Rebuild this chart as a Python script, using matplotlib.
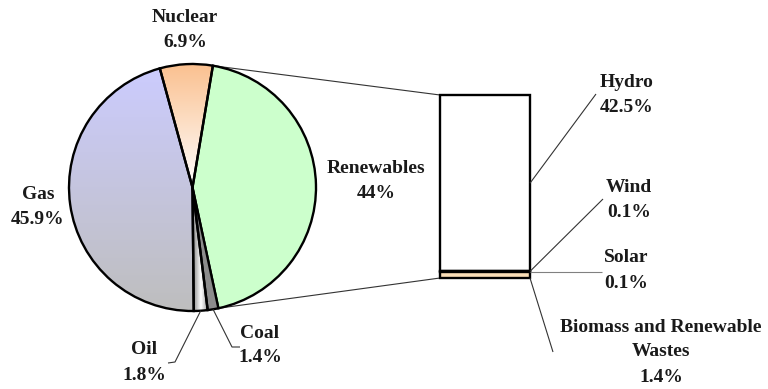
import numpy as np
import matplotlib
matplotlib.use("Agg")
import matplotlib.pyplot as plt
from matplotlib.patches import ConnectionPatch
from matplotlib.colors import LinearSegmentedColormap

# Primary energy mix (percent of total)
sources = ["Renewables", "Coal", "Oil", "Gas", "Nuclear"]
shares = [44, 1.4, 1.8, 45.9, 6.9]
share_labels = ["44%", "1.4%", "1.8%", "45.9%", "6.9%"]

# Breakdown of the renewables slice (top to bottom of the bar)
renew_sources = ["Hydro", "Wind", "Solar", "Biomass and Renewable\nWastes"]
renew_shares = [42.5, 0.1, 0.1, 1.4]
renew_labels = ["42.5%", "0.1%", "0.1%", "1.4%"]

W, H = 768, 389
fig = plt.figure(figsize=(W / 100, H / 100), dpi=100)
fig.patch.set_facecolor("white")

FONT = dict(family="Liberation Serif", weight="bold", fontsize=14, color="#1a1a1a")

# ---------- pie ----------
cx, cy, R = 192.5, 187.5, 123.5
lim = 1.05
side = 2 * lim * R
pie_ax = fig.add_axes([(cx - side / 2) / W, (H - cy - side / 2) / H, side / W, side / H])
start = 80.5
flat_colors = {"Renewables": "#CCFFCC", "Coal": "#8C8C8C", "Oil": "#E6E6E6",
               "Gas": "none", "Nuclear": "none"}
wedges, _ = pie_ax.pie(shares, startangle=start, counterclock=False,
                       colors=[flat_colors[s] for s in sources],
                       wedgeprops=dict(edgecolor="black", linewidth=1.7))
pie_ax.set_xlim(-lim, lim)
pie_ax.set_ylim(-lim, lim)
pie_ax.set_aspect("equal")
pie_ax.axis("off")
idx = {s: i for i, s in enumerate(sources)}


def gradient_fill(ax, wedge, colors, extent, vertical=True):
    cmap = LinearSegmentedColormap.from_list("g", colors)
    g = np.linspace(1, 0, 256)
    img = g[:, None] * np.ones((1, 4)) if vertical else np.ones((4, 1)) * g[None, :]
    im = ax.imshow(img, cmap=cmap, extent=extent, origin="upper", aspect="auto",
                   zorder=0.5, interpolation="bilinear")
    im.set_clip_path(wedge)


# Gas: lavender at the top fading to grey at the bottom
gradient_fill(pie_ax, wedges[idx["Gas"]], ["#BEBEBE", "#CCCCFF"], (-1, 1, -1, 1))
# Nuclear: orange at the rim fading to white at the centre
gradient_fill(pie_ax, wedges[idx["Nuclear"]], ["#FFFFFF", "#FAC08F"], (-1, 1, 0, 1))
# Oil: grey edges with a white core, across the width of the slice
w_oil = wedges[idx["Oil"]]
xa, xb = np.cos(np.deg2rad(w_oil.theta1)), np.cos(np.deg2rad(w_oil.theta2))
cmap_oil = LinearSegmentedColormap.from_list("o", ["#9A9A9A", "#FFFFFF", "#9A9A9A"])
im = pie_ax.imshow(np.linspace(0, 1, 64)[None, :] * np.ones((4, 1)), cmap=cmap_oil,
                   extent=(min(xa, xb), max(xa, xb), -1, 0), aspect="auto", zorder=0.5)
im.set_clip_path(w_oil)
for s, w in zip(sources, wedges):
    w.set_zorder(1)
    if s in ("Gas", "Nuclear", "Oil"):
        w.set_facecolor("none")

# ---------- bar of the renewables slice ----------
bx0, bx1, by0, by1 = 440, 530, 95, 278
bar_ax = fig.add_axes([bx0 / W, (H - by1) / H, (bx1 - bx0) / W, (by1 - by0) / H])
total_r = sum(renew_shares)
bottoms = np.cumsum([0] + renew_shares[::-1][:-1])[::-1]
bar_colors = ["#FFFFFF", "#F6D7AE", "#F6D7AE", "#F9DDB6"]
for name, val, b, c in zip(renew_sources, renew_shares, bottoms, bar_colors):
    bar_ax.bar(0, val, bottom=b, width=1.0, color=c, edgecolor="black",
               linewidth=1.7, clip_on=False)
bar_ax.set_xlim(-0.5, 0.5)
bar_ax.set_ylim(0, total_r)
bar_ax.axis("off")

# ---------- overlay for labels and leader lines (pixel coordinates) ----------
ov = fig.add_axes([0, 0, 1, 1], zorder=5)
ov.set_xlim(0, W)
ov.set_ylim(H, 0)
ov.axis("off")
ov.patch.set_alpha(0)

# connectors from the renewables slice to the bar
w_ren = wedges[idx["Renewables"]]
for ang, ybar in [(w_ren.theta2, total_r), (w_ren.theta1, 0)]:
    a = np.deg2rad(ang)
    con = ConnectionPatch(xyA=(np.cos(a), np.sin(a)), coordsA="data", axesA=pie_ax,
                          xyB=(-0.5, ybar), coordsB="data", axesB=bar_ax,
                          color="#333333", linewidth=0.8, zorder=0)
    fig.add_artist(con)


def line(xs, ys, color="#333333"):
    ov.plot(xs, ys, color=color, linewidth=0.8, solid_capstyle="butt")


def two_line_label(x, y, top, bottom, step=25):
    ov.text(x, y, top, ha="center", va="center", **FONT)
    ov.text(x, y + step, bottom, ha="center", va="center", **FONT)


# pie labels
pie_label_pos = {"Renewables": (376, 168), "Coal": (260, 333), "Oil": (144, 350),
                 "Gas": (38, 194), "Nuclear": (185, 17)}
for s, lab in zip(sources, share_labels):
    x, y = pie_label_pos[s]
    two_line_label(x, y, s, lab)


def pie_edge(name):
    w = wedges[idx[name]]
    a = np.deg2rad((w.theta1 + w.theta2) / 2)
    return cx + R * np.cos(a), cy - R * np.sin(a)


ox, oy = pie_edge("Oil")
line([ox, 175, 168], [oy, 362, 363])
kx, ky = pie_edge("Coal")
line([kx, 232, 240], [ky, 347, 347])


# bar labels
def bar_px(yval):
    return by1 - (by1 - by0) * yval / total_r


hydro_mid = bar_px(bottoms[0] + renew_shares[0] / 2)
line([bx1, 596], [hydro_mid, 94])
two_line_label(627, 82, renew_sources[0], renew_labels[0])

line([bx1, 603], [bar_px(bottoms[1] + renew_shares[1]), 199])
two_line_label(629, 187, renew_sources[1], renew_labels[1])

ys = bar_px(bottoms[2] + renew_shares[2] / 2)
line([bx1, 602], [ys, ys], color="#808080")
two_line_label(626, 258, renew_sources[2], renew_labels[2])

line([bx1, 553], [by1, 352])
bio_top, bio_mid = renew_sources[3].split("\n")
ov.text(661, 328, bio_top, ha="center", va="center", **FONT)
two_line_label(661, 352, bio_mid, renew_labels[3])

fig.savefig("out.png", dpi=100, facecolor="white")
